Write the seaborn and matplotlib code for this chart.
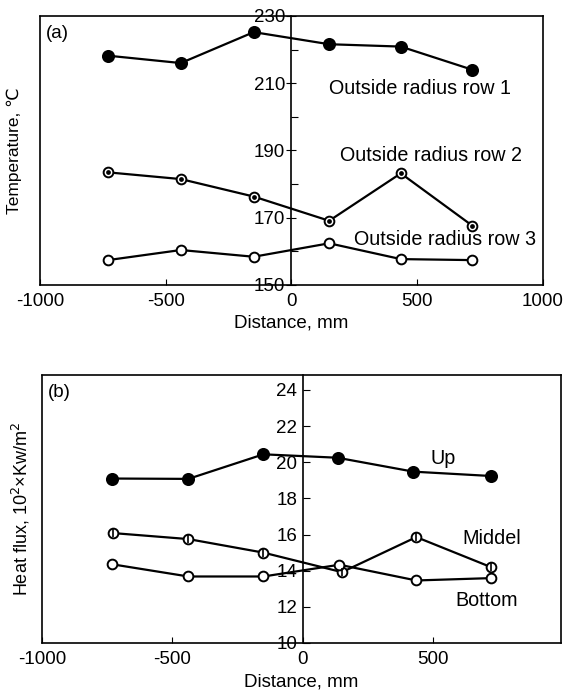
import matplotlib
matplotlib.use("Agg")
import matplotlib.pyplot as plt
import seaborn as sns
import numpy as np
from matplotlib.ticker import MultipleLocator, FixedLocator

sns.set_theme(style="white")
plt.rcParams['font.family'] = ['Liberation Sans', 'DejaVu Sans']
plt.rcParams['axes.unicode_minus'] = False
plt.rcParams['text.color'] = 'black'
plt.rcParams['axes.labelcolor'] = 'black'

# ---- data panel (a) ----
dist_a = [-730, -440, -150, 150, 435, 720]
row1 = [218.2, 216.0, 225.2, 221.6, 220.9, 214.0]
row2 = [183.5, 181.5, 176.3, 169.1, 183.2, 167.6]
row3 = [157.4, 160.4, 158.4, 162.4, 157.7, 157.4]
labels_a = ["Outside radius row 1", "Outside radius row 2", "Outside radius row 3"]

# ---- data panel (b) ----
dist_up = [-733, -439, -151, 133, 424, 721]
up = [19.1, 19.08, 20.44, 20.25, 19.48, 19.24]
dist_mid = [-726, -439, -151, 150, 435, 721]
middel = [16.08, 15.75, 15.0, 13.92, 15.86, 14.2]
dist_bot = [-733, -439, -151, 140, 435, 721]
bottom = [14.36, 13.68, 13.68, 14.33, 13.46, 13.59]
labels_b = ["Up", "Middel", "Bottom"]

xticks = [-1000, -500, 0, 500, 1000]

fig = plt.figure(figsize=(5.8, 6.98), dpi=100)
axa = fig.add_axes([0.069, 0.5917, 0.867, 0.3854])
axb = fig.add_axes([0.0724, 0.0788, 0.895, 0.384])

lw = 1.6
FS = 13.5
FT = 13.5
FL = 14.2


def style_axes(ax):
    ax.set_facecolor("white")
    for s in ["top", "right", "bottom"]:
        ax.spines[s].set_visible(True)
        ax.spines[s].set_color("black")
        ax.spines[s].set_linewidth(1.2)
    ax.spines["left"].set_position(("data", 0))
    ax.spines["left"].set_color("black")
    ax.spines["left"].set_linewidth(1.2)
    ax.plot([0, 0], [0, 1], transform=ax.transAxes, color="black", lw=1.2, clip_on=False)
    ax.set_xticks(xticks)
    ax.tick_params(axis="x", direction="in", length=4, width=0.8, colors="black",
                   labelsize=FT, pad=6, bottom=True, top=False)
    ax.tick_params(axis="y", which="both", width=0.8, colors="black", labelsize=FT,
                   left=True, right=False)
    ax.grid(False)


def series(ax, x, y, face, extra=None, ms=7):
    sns.lineplot(x=x, y=y, ax=ax, color="black", linewidth=lw, marker="o",
                 markersize=ms, markerfacecolor=face, markeredgecolor="black",
                 markeredgewidth=1.4, legend=False)
    if extra is not None:
        sns.scatterplot(x=x, y=y, ax=ax, marker=extra, s=20 if extra == "." else 36,
                        color="black", linewidth=1.2, edgecolor="black", legend=False, zorder=5)


# panel (a)
style_axes(axa)
series(axa, dist_a, row1, "black", ms=8)
series(axa, dist_a, row2, "white", ".")
series(axa, dist_a, row3, "white")
axa.set_xlim(-1000, 1000)
axa.set_ylim(150, 230)
axa.yaxis.set_major_locator(FixedLocator([150, 170, 190, 210, 230]))
axa.yaxis.set_minor_locator(FixedLocator([160, 180, 200, 220]))
axa.tick_params(axis="y", which="major", direction="inout", length=7, pad=1)
axa.tick_params(axis="y", which="minor", direction="in", length=5, left=True)
axa.set_xlabel("Distance, mm", fontsize=FS, color="black", labelpad=3)
axa.set_ylabel("Temperature, ℃", fontsize=12.5, color="black")
axa.yaxis.set_label_coords(-0.036, 0.5)
axa.text(0.012, 0.935, "(a)", transform=axa.transAxes, fontsize=FS, va="center", ha="left")
axa.text(149, 208.3, labels_a[0], fontsize=FL, va="center", ha="left")
axa.text(193, 188.4, labels_a[1], fontsize=FL, va="center", ha="left")
axa.text(248, 163.4, labels_a[2], fontsize=FL, va="center", ha="left")

# panel (b)
style_axes(axb)
series(axb, dist_up, up, "black", ms=8)
series(axb, dist_mid, middel, "white", "|")
series(axb, dist_bot, bottom, "white")
axb.set_xlim(-1000, 990)
axb.set_ylim(10, 24.83)
axb.yaxis.set_major_locator(MultipleLocator(2))
axb.tick_params(axis="y", which="major", direction="in", length=5, pad=4)
axb.set_xlabel("Distance, mm", fontsize=FS, color="black", labelpad=4)
axb.set_ylabel("Heat flux, 10$^2$×Kw/m$^2$", fontsize=13, color="black")
axb.yaxis.set_label_coords(-0.019, 0.5)
axb.text(0.012, 0.933, "(b)", transform=axb.transAxes, fontsize=FS, va="center", ha="left")
axb.text(490, 20.2, labels_b[0], fontsize=FL, va="center", ha="left")
axb.text(610, 15.76, labels_b[1], fontsize=FL, va="center", ha="left")
axb.text(585, 12.35, labels_b[2], fontsize=FL, va="center", ha="left")

fig.savefig("out.png", dpi=100, facecolor="white")
